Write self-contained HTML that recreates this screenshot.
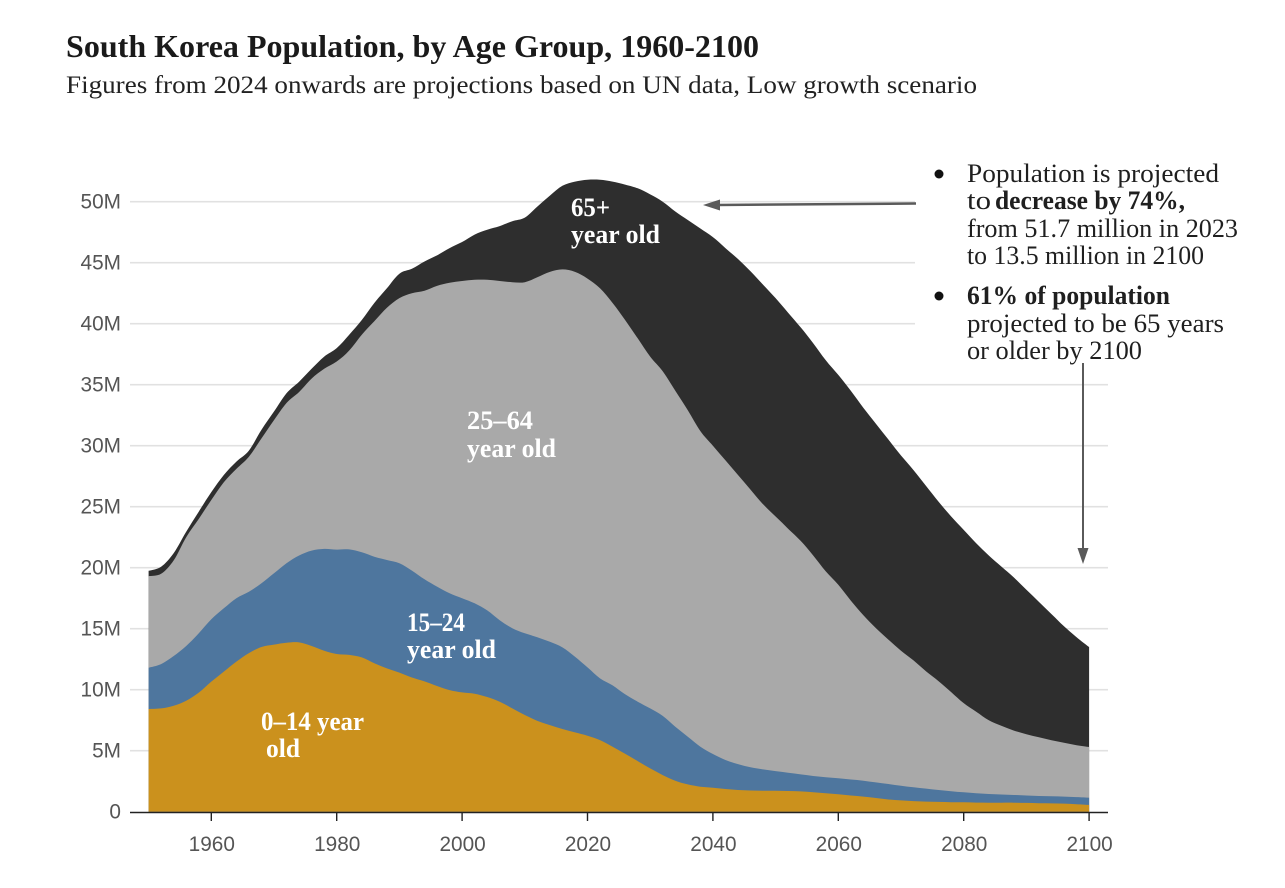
<!DOCTYPE html>
<html lang="en">
<head>
<meta charset="utf-8">
<title>South Korea Population, by Age Group, 1960-2100</title>
<style>
  html, body { margin: 0; padding: 0; background: #fff; }
  body { width: 1285px; height: 888px; overflow: hidden; }
  svg { display: block; }
  .serif { font-family: "Liberation Serif", serif; }
  .tick { font-family: "Liberation Sans", sans-serif; font-size: 20.8px; fill: #555; }
  .title { font-size: 32px; font-weight: bold; fill: #1a1a1a; }
  .subtitle { font-size: 25px; fill: #222; }
  .note { font-size: 26.5px; fill: #1f1f1f; }
  .area-label { font-size: 26.5px; fill: #fff; font-weight: bold; }
</style>
</head>
<body>
<svg id="chart" xmlns="http://www.w3.org/2000/svg" width="1285" height="888" viewBox="0 0 1285 888">
  <text class="serif title" x="66" y="57" textLength="693" lengthAdjust="spacingAndGlyphs">South Korea Population, by Age Group, 1960-2100</text>
  <text class="serif subtitle" x="66" y="93" textLength="911" lengthAdjust="spacingAndGlyphs">Figures from 2024 onwards are projections based on UN data, Low growth scenario</text>
  <g id="grid"></g>
  <g id="areas"></g>
  <g id="axes"></g>

  <g>
    <text class="serif area-label" x="571" y="216" textLength="39" lengthAdjust="spacingAndGlyphs">65+</text>
    <text class="serif area-label" x="571" y="243" textLength="89" lengthAdjust="spacingAndGlyphs">year old</text>
    <text class="serif area-label" x="467" y="429" textLength="66" lengthAdjust="spacingAndGlyphs">25–64</text>
    <text class="serif area-label" x="467" y="457" textLength="89" lengthAdjust="spacingAndGlyphs">year old</text>
    <text class="serif area-label" x="407" y="631" textLength="58" lengthAdjust="spacingAndGlyphs">15–24</text>
    <text class="serif area-label" x="407" y="658" textLength="89" lengthAdjust="spacingAndGlyphs">year old</text>
    <text class="serif area-label" x="261" y="730" textLength="103" lengthAdjust="spacingAndGlyphs">0–14 year</text>
    <text class="serif area-label" x="266" y="757" textLength="34" lengthAdjust="spacingAndGlyphs">old</text>
  </g>

  <g>
    <circle cx="939" cy="174" r="4.5" fill="#111"></circle>
    <text class="serif note" x="967" y="182" textLength="252" lengthAdjust="spacingAndGlyphs">Population is projected</text>
    <text class="serif note" x="967" y="209" textLength="24" lengthAdjust="spacingAndGlyphs">to</text>
    <text class="serif note" x="995" y="209" font-weight="bold" textLength="190" lengthAdjust="spacingAndGlyphs">decrease by 74%,</text>
    <text class="serif note" x="967" y="237" textLength="271" lengthAdjust="spacingAndGlyphs">from 51.7 million in 2023</text>
    <text class="serif note" x="967" y="264" textLength="237" lengthAdjust="spacingAndGlyphs">to 13.5 million in 2100</text>
  </g>
  <g>
    <circle cx="939" cy="296" r="4.5" fill="#111"></circle>
    <text class="serif note" x="967" y="304" font-weight="bold" textLength="203" lengthAdjust="spacingAndGlyphs">61% of population</text>
    <text class="serif note" x="967" y="332" textLength="257" lengthAdjust="spacingAndGlyphs">projected to be 65 years</text>
    <text class="serif note" x="967" y="359" textLength="175" lengthAdjust="spacingAndGlyphs">or older by 2100</text>
  </g>

  <g>
    <line x1="916" y1="203.5" x2="716" y2="205" stroke="#5a5a5a" stroke-width="2.5"></line>
    <polygon points="703,205 720,199.5 720,210.5" fill="#5a5a5a"></polygon>
  </g>
  <g>
    <line x1="1083" y1="363" x2="1083" y2="550" stroke="#5a5a5a" stroke-width="2"></line>
    <polygon points="1083,564 1077.5,548 1088.5,548" fill="#5a5a5a"></polygon>
  </g>
</svg>

<script>
// Years sampled every two years, 1950-2100
const firstYear = 1950;
const yearStep = 2;

// Cumulative population (millions) at the top of each age band
const upTo14 = [8.42,8.47,8.69,9.1,9.76,10.66,11.48,12.3,13,13.5,13.7,13.85,13.88,13.58,13.2,12.93,12.85,12.65,12.16,11.75,11.4,11,10.68,10.3,9.97,9.78,9.67,9.4,9.02,8.47,7.93,7.44,7.1,6.78,6.5,6.23,5.87,5.33,4.75,4.15,3.55,3,2.54,2.24,2.05,1.97,1.86,1.78,1.74,1.72,1.71,1.7,1.66,1.6,1.52,1.43,1.33,1.24,1.12,1,0.93,0.87,0.83,0.8,0.78,0.77,0.75,0.74,0.74,0.74,0.72,0.7,0.68,0.66,0.61,0.55];
const upTo24 = [11.8,12.1,12.76,13.58,14.62,15.77,16.67,17.5,18.03,18.72,19.54,20.36,21,21.4,21.54,21.48,21.5,21.26,20.9,20.63,20.36,19.76,19.05,18.45,17.9,17.5,17.08,16.5,15.7,15.03,14.62,14.3,13.93,13.47,12.7,11.83,10.93,10.35,9.62,9.02,8.47,7.85,6.97,6.15,5.33,4.73,4.24,3.9,3.64,3.47,3.33,3.2,3.06,2.93,2.83,2.74,2.64,2.54,2.4,2.27,2.13,2,1.89,1.78,1.68,1.59,1.52,1.45,1.41,1.37,1.33,1.29,1.26,1.24,1.2,1.15];
const upTo64 = [19.3,19.5,20.6,22.5,24,25.55,27,28.1,29.1,30.6,32.1,33.5,34.4,35.5,36.3,36.9,37.8,39.1,40.2,41.3,42.1,42.5,42.7,43.1,43.35,43.5,43.6,43.6,43.5,43.4,43.4,43.8,44.25,44.45,44.25,43.7,42.9,41.7,40.3,38.8,37.3,36.1,34.5,32.9,31.2,30,28.8,27.6,26.4,25.2,24.2,23.2,22.2,21,19.7,18.6,17.3,16.1,15.05,14.1,13.2,12.4,11.5,10.7,9.8,8.9,8.2,7.5,7.05,6.65,6.35,6.1,5.85,5.65,5.45,5.3];
const totalPop = [19.75,20.08,21.2,22.95,24.6,26.2,27.6,28.7,29.6,31.3,32.8,34.3,35.25,36.3,37.3,38,39.1,40.3,41.7,42.9,44.1,44.5,45.1,45.6,46.2,46.7,47.3,47.7,48,48.4,48.7,49.6,50.5,51.3,51.65,51.8,51.8,51.65,51.4,51.1,50.6,50,49.2,48.5,47.8,47.1,46.2,45.3,44.3,43.2,42.1,40.9,39.7,38.4,37,35.8,34.5,33.1,31.8,30.5,29.2,28,26.7,25.4,24.2,23.1,22,21,20.1,19.2,18.2,17.2,16.2,15.2,14.3,13.5];

// Axis ticks
const xTicks = [1960,1980,2000,2020,2040,2060,2080,2100];
const yTicks = [0,5,10,15,20,25,30,35,40,45,50];

const SVG_NS = 'http://www.w3.org/2000/svg';
function xScale(year) { return 211.3 + (year - 1960) * 6.27; }
function yScale(m) { return 811.7 - m * 12.2; }
function yearAt(i) { return firstYear + i * yearStep; }

const gridG = document.getElementById('grid');
const areasG = document.getElementById('areas');
const axesG = document.getElementById('axes');

// Gridlines and y-axis labels
yTicks.forEach(function (v) {
  const y = yScale(v);
  if (v > 0) {
    const line = document.createElementNS(SVG_NS, 'line');
    
    
    line.setAttribute('x1', 130);
    line.setAttribute('x2', v >= 40 ? 915 : 1108);
    line.setAttribute('y1', y);
    line.setAttribute('y2', y);
    line.setAttribute('stroke', '#e1e1e1');
    line.setAttribute('stroke-width', '1.6');
    gridG.appendChild(line);
  }
  const label = document.createElementNS(SVG_NS, 'text');
  
  
  label.setAttribute('class', 'tick');
  label.setAttribute('x', 121);
  label.setAttribute('y', y + 7);
  label.setAttribute('text-anchor', 'end');
  label.textContent = v === 0 ? '0' : v + 'M';
  axesG.appendChild(label);
});

// Smooth (Catmull-Rom) area from a boundary series down to the baseline.
// Bands are painted back to front so neighbouring edges never show a seam.
function areaPath(series) {
  const pts = series.map(function (v, i) { return [xScale(yearAt(i)), yScale(v)]; });
  let d = 'M' + pts[0][0].toFixed(1) + ',' + yScale(0).toFixed(1) + 'L' + pts[0][0].toFixed(1) + ',' + pts[0][1].toFixed(1);
  for (let i = 0; i < pts.length - 1; i++) {
    const p0 = pts[Math.max(i - 1, 0)];
    const p1 = pts[i];
    const p2 = pts[i + 1];
    const p3 = pts[Math.min(i + 2, pts.length - 1)];
    const c1x = p1[0] + (p2[0] - p0[0]) / 6;
    const c1y = p1[1] + (p2[1] - p0[1]) / 6;
    const c2x = p2[0] - (p3[0] - p1[0]) / 6;
    const c2y = p2[1] - (p3[1] - p1[1]) / 6;
    d += 'C' + c1x.toFixed(1) + ',' + c1y.toFixed(1) + ' ' + c2x.toFixed(1) + ',' + c2y.toFixed(1) + ' ' + p2[0].toFixed(1) + ',' + p2[1].toFixed(1);
  }
  d += 'L' + pts[pts.length - 1][0].toFixed(1) + ',' + yScale(0).toFixed(1) + 'Z';
  return d;
}

const bandAged65 = document.createElementNS(SVG_NS, 'path');


bandAged65.setAttribute('d', areaPath(totalPop));
bandAged65.setAttribute('fill', '#2e2e2e');
areasG.appendChild(bandAged65);

const bandAged25 = document.createElementNS(SVG_NS, 'path');


bandAged25.setAttribute('d', areaPath(upTo64));
bandAged25.setAttribute('fill', '#a9a9a9');
areasG.appendChild(bandAged25);

const bandAged15 = document.createElementNS(SVG_NS, 'path');


bandAged15.setAttribute('d', areaPath(upTo24));
bandAged15.setAttribute('fill', '#4e769e');
areasG.appendChild(bandAged15);

const bandAged0 = document.createElementNS(SVG_NS, 'path');


bandAged0.setAttribute('d', areaPath(upTo14));
bandAged0.setAttribute('fill', '#cb911d');
areasG.appendChild(bandAged0);

// X axis
const baseline = document.createElementNS(SVG_NS, 'line');


baseline.setAttribute('x1', 130);
baseline.setAttribute('x2', 1108);
baseline.setAttribute('y1', 812.5);
baseline.setAttribute('y2', 812.5);
baseline.setAttribute('stroke', '#222');
baseline.setAttribute('stroke-width', '1.6');
axesG.appendChild(baseline);

xTicks.forEach(function (year) {
  const x = xScale(year);
  const tick = document.createElementNS(SVG_NS, 'line');
  
  
  tick.setAttribute('x1', x);
  tick.setAttribute('x2', x);
  tick.setAttribute('y1', 812);
  tick.setAttribute('y2', 821);
  tick.setAttribute('stroke', '#222');
  tick.setAttribute('stroke-width', '1.4');
  axesG.appendChild(tick);
  const label = document.createElementNS(SVG_NS, 'text');
  
  
  label.setAttribute('class', 'tick');
  label.setAttribute('x', x + 0.5);
  label.setAttribute('y', 851);
  label.setAttribute('text-anchor', 'middle');
  label.textContent = year;
  axesG.appendChild(label);
});
</script>
</body>
</html>
